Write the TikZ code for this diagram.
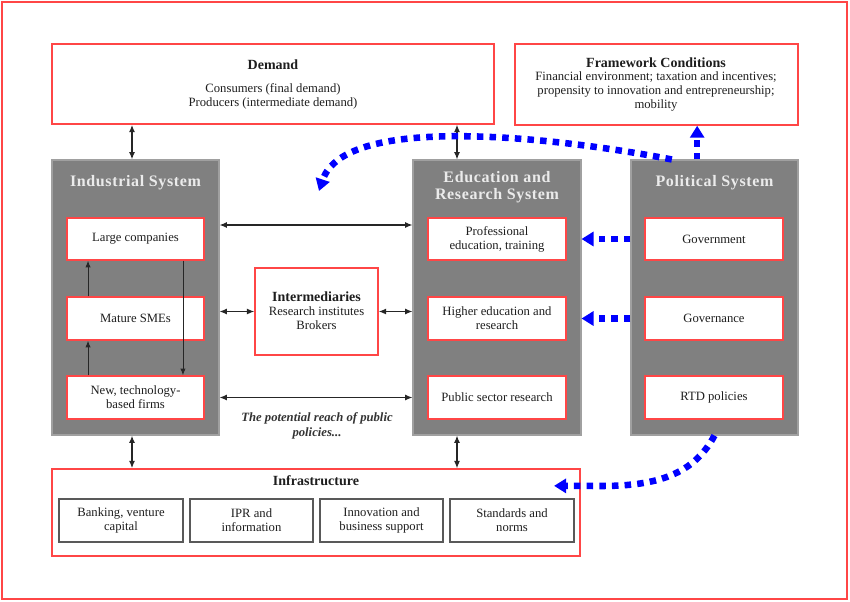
\documentclass[tikz,border=0pt]{standalone}
\usepackage{fontspec}
\setmainfont{Liberation Serif}
\usetikzlibrary{arrows.meta,fit,shadows}

\definecolor{boxred}{RGB}{255,70,70}
\definecolor{sysgray}{RGB}{128,128,128}
\definecolor{sysedge}{RGB}{160,160,160}
\definecolor{inktext}{RGB}{30,30,30}
\definecolor{policyblue}{RGB}{0,0,255}

\begin{document}
\begin{tikzpicture}[
  x=0.75pt, y=-0.75pt,
  font=\fontsize{9.5}{10.5}\selectfont,
  text=inktext,
  framebox/.style={draw=boxred, line width=1.6pt, inner sep=0pt},
  redbox/.style={draw=boxred, fill=white, line width=1.1pt, inner sep=0pt},
  sysbox/.style={draw=sysedge, fill=sysgray, line width=0.8pt, inner sep=0pt},
  subbox/.style={draw=black!65, fill=white, line width=0.8pt, inner sep=0pt,
    drop shadow={shadow xshift=1pt, shadow yshift=-1pt, fill=black!55, opacity=1}},
  txt/.style={inner sep=0pt, align=center},
  systitle/.style={txt, text=white!92!black, font=\fontsize{12}{12.5}\selectfont\bfseries\addfontfeatures{LetterSpace=4}},
  link/.style={{Latex[length=5.5pt,width=4.5pt]}-{Latex[length=5.5pt,width=4.5pt]}, line width=0.9pt, draw=black!85},
  heavylink/.style={link, line width=1.6pt},
  flow/.style={-{Latex[length=5pt,width=4pt]}, line width=0.7pt, draw=black!85},
  policy/.style={draw=policyblue, line width=4.9pt, dash pattern=on 4.9pt off 4.6pt,
    -{Triangle[length=9pt,width=10.5pt]}}
]
\useasboundingbox (0,0) rectangle (850,601);

% outer frame
\node[framebox, fit={(2,2) (847,599)}] (frame) {};

% top row
\node[redbox, fit={(52,44) (494,124)}] (demand) {};
\node[txt, font=\fontsize{10.5}{12}\selectfont\bfseries] (demandtitle) at (273,65) {Demand};
\node[txt] (demandtext) at (273,96) {Consumers (final demand)\\Producers (intermediate demand)};

\node[redbox, fit={(515,44) (798,125)}] (frame2) {};
\node[txt, font=\fontsize{10.5}{12}\selectfont\bfseries] (frametitle) at (656,63) {Framework Conditions};
\node[txt] (frametext) at (656,91) {Financial environment; taxation and incentives;\\propensity to innovation and entrepreneurship;\\mobility};

% industrial system
\node[sysbox, fit={(52,160) (219,435)}] (ind) {};
\node[systitle] (indtitle) at (135.5,183) {Industrial System};
\node[redbox, fit={(67,218) (204,260)}] (large) {};
\node[txt] at (large) {Large companies};
\node[redbox, fit={(67,297) (204,340)}] (sme) {};
\node[txt] at (sme) {Mature SMEs};
\node[redbox, fit={(67,376) (204,419)}] (newfirms) {};
\node[txt] at (newfirms) {New, technology-\\based firms};

% education and research system
\node[sysbox, fit={(413,160) (581,435)}] (edu) {};
\node[systitle] (edutitle) at (497,187) {Education and\\Research System};
\node[redbox, fit={(428,218) (566,260)}] (prof) {};
\node[txt] at (prof) {Professional\\education, training};
\node[redbox, fit={(428,297) (566,340)}] (higher) {};
\node[txt] at (higher) {Higher education and\\research};
\node[redbox, fit={(428,376) (566,419)}] (pubres) {};
\node[txt] at (pubres) {Public sector research};

% political system
\node[sysbox, fit={(631,160) (798,435)}] (pol) {};
\node[systitle] (poltitle) at (714.5,183) {Political System};
\node[redbox, fit={(645,218) (783,260)}] (gov) {};
\node[txt] at (gov) {Government};
\node[redbox, fit={(645,297) (783,340)}] (governance) {};
\node[txt] at (governance) {Governance};
\node[redbox, fit={(645,376) (783,419)}] (rtd) {};
\node[txt] at (rtd) {RTD policies};

% intermediaries
\node[redbox, fit={(255,268) (378,355)}] (inter) {};
\node[txt] (intertext) at (316.5,311) {\textbf{\fontsize{10.5}{12}\selectfont Intermediaries}\\Research institutes\\Brokers};

% infrastructure
\node[redbox, fit={(52,469) (580,556)}] (infra) {};
\node[txt, font=\fontsize{10.5}{12}\selectfont\bfseries] (infratitle) at (316,481) {Infrastructure};
\node[subbox, fit={(59,499) (183,542)}] (bank) {};
\node[txt] at (bank) {Banking, venture\\capital};
\node[subbox, fit={(190,499) (313,542)}] (ipr) {};
\node[txt] at (ipr) {IPR and\\information};
\node[subbox, fit={(320,499) (443,542)}] (support) {};
\node[txt] at (support) {Innovation and\\business support};
\node[subbox, fit={(450,499) (574,542)}] (norms) {};
\node[txt] at (norms) {Standards and\\norms};

% caption between the systems
\node[txt, font=\fontsize{9.5}{11}\selectfont\bfseries\itshape, text=black!80] (reach) at (317,426)
  {The potential reach of public\\policies...};

% links to demand and infrastructure
\draw[heavylink] (ind.north -| 132,0) -- (demand.south -| 132,0);
\draw[link] ([xshift=-30pt]edu.north) -- ([xshift=-30pt]edu.north |- demand.south);
\draw[heavylink] (ind.south -| 132,0) -- (infra.north -| 132,0);
\draw[link] ([xshift=-30pt]edu.south) -- ([xshift=-30pt]edu.south |- infra.north);

% horizontal links between systems
\draw[link] ([yshift=10.5pt]ind.east |- large.east) -- ([yshift=10.5pt]edu.west |- large.east);
\draw[link] (ind.east |- inter.west) -- (inter.west);
\draw[link] (inter.east) -- (edu.west |- inter.east);
\draw[link] (ind.east |- newfirms.east) -- (edu.west |- newfirms.east);

% firm dynamics inside the industrial system
\draw[flow] ([xshift=-35.6pt]sme.north) -- ([xshift=-35.6pt]large.south);
\draw[flow] ([xshift=-35.6pt]newfirms.north) -- ([xshift=-35.6pt]sme.south);
\draw[flow] ([xshift=35.6pt]large.south) -- ([xshift=35.6pt]newfirms.north);

% policy influence
\coordinate (reachtip) at (319,191);
\coordinate (infratip) at ([xshift=-20pt,yshift=20pt]infra.east);
\draw[policy] (gov.west -| pol.west) -- (gov.west -| edu.east);
\draw[policy] (governance.west -| pol.west) -- (governance.west -| edu.east);
\draw[policy] ([xshift=-13pt]pol.north) -- ([xshift=-13pt]pol.north |- frame2.south);
\draw[policy] ([xshift=-32pt]pol.north) .. controls (560,138) and (345,112) .. (reachtip);
\draw[policy] (pol.south) .. controls (692,478) and (650,486) .. (600,486) -- (infratip);

\end{tikzpicture}
\end{document}
